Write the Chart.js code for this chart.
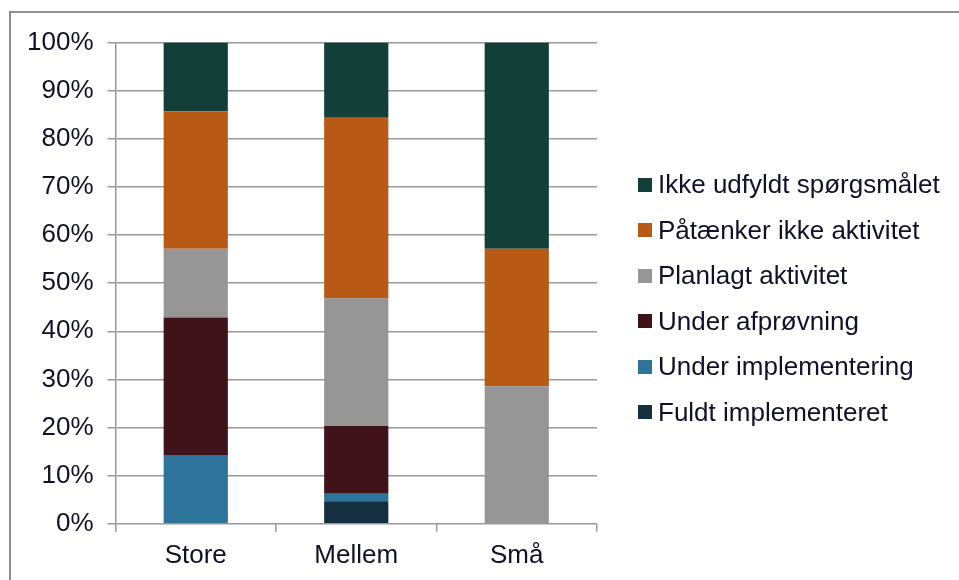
<!DOCTYPE html>
<html>
<head>
<meta charset="utf-8">
<script src="https://cdn.jsdelivr.net/npm/chart.js@4"></script>
<style>
  html, body { margin: 0; padding: 0; background: #fff; overflow: hidden; }
  #ramme { position: absolute; left: 9px; top: 11px; width: 1000px; height: 640px; border: 2px solid #8f8f8f; box-sizing: border-box; }
  #graf { position: absolute; left: 13px; top: 13px; }
  #forklaring { position: absolute; left: 638px; top: 162px; font-family: 'Liberation Sans', Arial, sans-serif; font-size: 26px; color: #10102a; }
  .punkt { height: 45.5px; display: flex; align-items: center; white-space: nowrap; }
  .kasse { width: 14px; height: 14px; margin-right: 6px; flex: none; }
</style>
</head>
<body>
<div id="ramme"></div>
<canvas id="graf" width="946" height="567"></canvas>
<div id="forklaring"></div>
<script>
// Kategorier og andele (i procent)
const kategorier = ['Store', 'Mellem', 'Små'];
const fuldtImplementeret = [0, 4.69, 0];
const underImplementering = [14.29, 1.56, 0];
const underAfproevning = [28.57, 14.06, 0];
const planlagtAktivitet = [14.29, 26.56, 28.57];
const paataenkerIkke = [28.57, 37.5, 28.57];
const ikkeUdfyldt = [14.29, 15.63, 42.86];
const yTicks = [0, 10, 20, 30, 40, 50, 60, 70, 80, 90, 100];

const tekstFarve = '#10102a';
const font = { family: 'Liberation Sans, Arial, sans-serif', size: 26 };

const graf = new Chart(document.getElementById('graf'), {
    type: 'bar',
    data: {
        labels: kategorier,
        datasets: [
            { label: 'Fuldt implementeret', data: fuldtImplementeret, backgroundColor: '#142f40' },
            { label: 'Under implementering', data: underImplementering, backgroundColor: '#2e7399' },
            { label: 'Under afprøvning', data: underAfproevning, backgroundColor: '#40121a' },
            { label: 'Planlagt aktivitet', data: planlagtAktivitet, backgroundColor: '#969696' },
            { label: 'Påtænker ikke aktivitet', data: paataenkerIkke, backgroundColor: '#b85915' },
            { label: 'Ikke udfyldt spørgsmålet', data: ikkeUdfyldt, backgroundColor: '#123f38' }
        ]
    },
    options: {
        responsive: false,
        animation: false,
        devicePixelRatio: 1,
        datasets: { bar: { categoryPercentage: 1, barPercentage: 0.4 } },
        layout: { padding: { left: 0, top: 22, right: 362, bottom: 1 } },
        plugins: {
            tooltip: { enabled: false },
            legend: { display: false } // egen forklaring i HTML, se nedenfor
        },
        scales: {
            x: {
                stacked: true,
                grid: { display: true, drawOnChartArea: false, offset: true, tickLength: 8, color: '#999', lineWidth: 1.5 },
                border: { display: false },
                ticks: { color: tekstFarve, font: font, padding: 8 }
            },
            y: {
                stacked: true,
                min: 0,
                max: 100,
                afterBuildTicks: (akse) => { akse.ticks = yTicks.map(v => ({ value: v })); },
                grid: { color: '#999', lineWidth: 1.5, tickLength: 8 },
                border: { color: '#999', width: 1.5 },
                ticks: { color: tekstFarve, font: font, padding: 14, callback: (v) => v + '%' }
            }
        }
    }
});

// Forklaringen bygges ud fra grafens egne datasæt (øverste serie først)
const forklaring = document.getElementById('forklaring');
graf.data.datasets.slice().reverse().forEach(ds => {
    const punkt = document.createElement('div');
    punkt.className = 'punkt';
    const kasse = document.createElement('span');
    kasse.className = 'kasse';
    kasse.style.background = ds.backgroundColor;
    punkt.appendChild(kasse);
    punkt.appendChild(document.createTextNode(ds.label));
    forklaring.appendChild(punkt);
});
</script>
</body>
</html>
